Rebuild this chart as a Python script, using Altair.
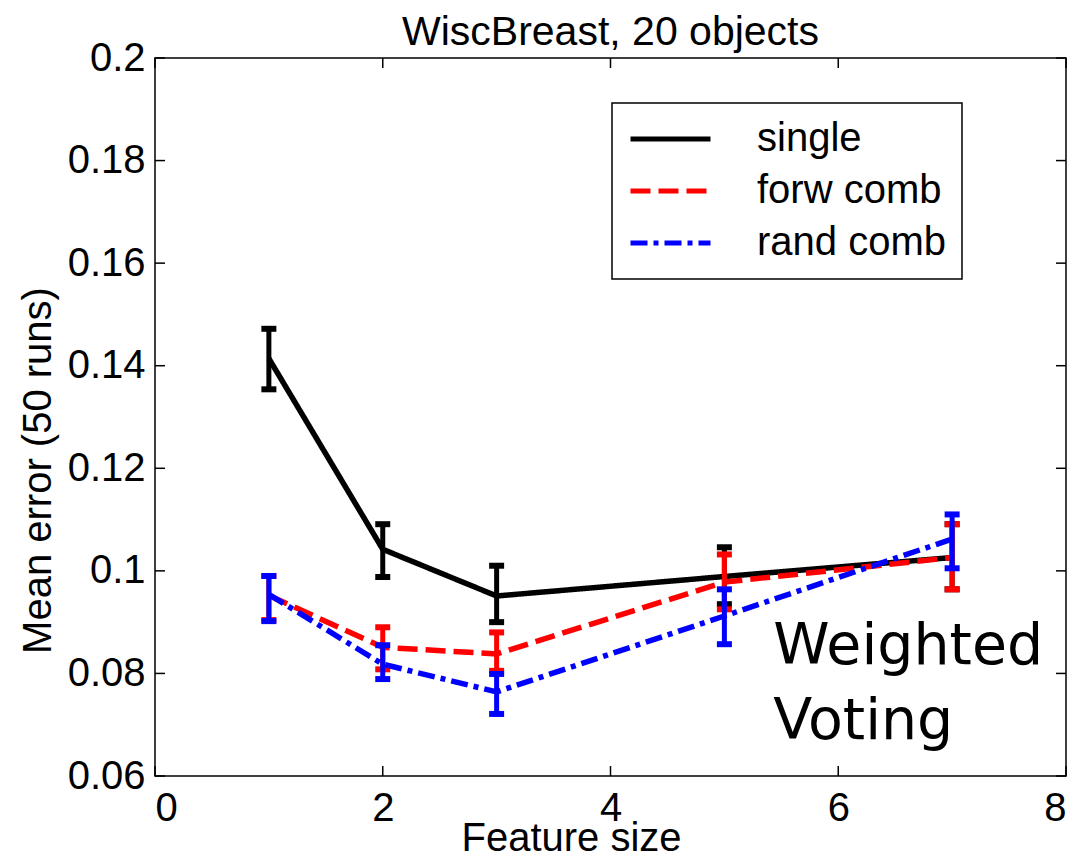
import altair as alt
import pandas as pd

# ---- data ----
series_names = ["single", "forw comb", "rand comb"]
feature_size = [1, 2, 3, 5, 7]

single_mean = [0.1414, 0.1042, 0.0951, 0.0989, 0.1026]
single_lo   = [0.1354, 0.0988, 0.0900, 0.0935, 0.0964]
single_hi   = [0.1472, 0.1091, 0.1010, 0.1046, 0.1091]

forw_mean = [0.0952, 0.0851, 0.0838, 0.0978, 0.1026]
forw_lo   = [0.0904, 0.0808, 0.0805, 0.0925, 0.0964]
forw_hi   = [0.0990, 0.0890, 0.0880, 0.1032, 0.1091]

rand_mean = [0.0954, 0.0818, 0.0764, 0.0912, 0.1062]
rand_lo   = [0.0902, 0.0789, 0.0721, 0.0857, 0.1005]
rand_hi   = [0.0990, 0.0855, 0.0799, 0.0964, 0.1110]

x_ticks = [0, 2, 4, 6, 8]
y_ticks = [0.06, 0.08, 0.10, 0.12, 0.14, 0.16, 0.18, 0.20]

annot_text = ["Weighted", "Voting"]
annot_x = [5.43, 5.43]
annot_y = [0.0818, 0.0672]

colors = ["#000000", "#ff0000", "#0000ff"]
dashes = [[1, 0], [20, 8], [17, 6, 5, 6]]

W, H = 911, 718

rows = []
for name, m, lo, hi in [
    ("single", single_mean, single_lo, single_hi),
    ("forw comb", forw_mean, forw_lo, forw_hi),
    ("rand comb", rand_mean, rand_lo, rand_hi),
]:
    for i, x in enumerate(feature_size):
        rows.append({"series": name, "x": x, "mean": m[i], "lo": lo[i], "hi": hi[i]})
df = pd.DataFrame(rows)

xs = alt.Scale(domain=[0, 8], nice=False)
ys = alt.Scale(domain=[0.06, 0.2], nice=False)
cs = alt.Scale(domain=series_names, range=colors)
ds = alt.Scale(domain=series_names, range=dashes)

x_enc = alt.X("x:Q", scale=xs,
              axis=alt.Axis(values=x_ticks, format="d", title="Feature size",
                            titleX=416, titleY=74, titleBaseline="alphabetic",
                            ticks=False, domain=False, grid=False, labelPadding=12))
y_enc = alt.Y("mean:Q", scale=ys,
              axis=alt.Axis(values=y_ticks, format=".2~f", title="Mean error (50 runs)",
                            titleX=-97, titleY=412, ticks=False, domain=False,
                            grid=False, labelPadding=10))

layers = []
for name in series_names:
    sub = alt.Chart(df).transform_filter(alt.datum.series == name)
    line = sub.mark_line(strokeWidth=5.5, strokeCap="butt", clip=True).encode(
        x=x_enc, y=y_enc,
        color=alt.Color("series:N", scale=cs, sort=series_names,
                        legend=alt.Legend(title=None)),
        strokeDash=alt.StrokeDash("series:N", scale=ds, sort=series_names,
                                  legend=alt.Legend(title=None)),
    )
    rule = sub.mark_rule(strokeWidth=5, opacity=1).encode(
        x="x:Q", y=alt.Y("lo:Q", scale=ys), y2="hi:Q",
        color=alt.Color("series:N", scale=cs, legend=None),
    )
    cap_lo = sub.mark_tick(orient="horizontal", size=15, thickness=6, opacity=1).encode(
        x="x:Q", y=alt.Y("lo:Q", scale=ys),
        color=alt.Color("series:N", scale=cs, legend=None),
    )
    cap_hi = sub.mark_tick(orient="horizontal", size=15, thickness=6, opacity=1).encode(
        x="x:Q", y=alt.Y("hi:Q", scale=ys),
        color=alt.Color("series:N", scale=cs, legend=None),
    )
    layers += [line, rule, cap_lo, cap_hi]

xt = pd.DataFrame({"x": x_ticks})
yt = pd.DataFrame({"mean": y_ticks})
tick_style = dict(strokeWidth=1.5, color="#000000")
xt_bot = alt.Chart(xt).mark_rule(**tick_style).encode(
    x=alt.X("x:Q", scale=xs), y=alt.value(H), y2=alt.value(H - 10))
xt_top = alt.Chart(xt).mark_rule(**tick_style).encode(
    x=alt.X("x:Q", scale=xs), y=alt.value(0), y2=alt.value(10))
yt_left = alt.Chart(yt).mark_rule(**tick_style).encode(
    y=alt.Y("mean:Q", scale=ys), x=alt.value(0), x2=alt.value(10))
yt_right = alt.Chart(yt).mark_rule(**tick_style).encode(
    y=alt.Y("mean:Q", scale=ys), x=alt.value(W), x2=alt.value(W - 10))

ann = pd.DataFrame({"t": annot_text, "x": annot_x, "mean": annot_y})
annot = alt.Chart(ann).mark_text(align="left", baseline="alphabetic",
                                 font="DejaVu Sans", fontSize=57, color="#000000").encode(
    x=alt.X("x:Q", scale=xs), y=alt.Y("mean:Q", scale=ys), text="t:N")

chart = alt.layer(*layers, xt_bot, xt_top, yt_left, yt_right, annot).properties(
    width=W, height=H,
    title=alt.TitleParams("WiscBreast, 20 objects", fontSize=41, font="Liberation Sans",
                          fontWeight="normal", color="#000000", offset=-16),
    autosize=alt.AutoSizeParams(type="none"),
    padding={"left": 155, "top": 58, "right": 12, "bottom": 88},
).resolve_scale(color="shared", strokeDash="shared").configure_view(
    stroke="#000000", strokeWidth=1.5
).configure_axis(
    labelFont="Liberation Sans", titleFont="Liberation Sans",
    labelFontSize=40, titleFontSize=40, labelColor="#000000", titleColor="#000000",
    titleFontWeight="normal",
).configure_legend(
    orient="none", legendX=457, legendY=45,
    strokeColor="#000000", strokeWidth=1.5, fillColor="#ffffff",
    padding=16, symbolType="stroke", symbolSize=6400, symbolStrokeWidth=5,
    labelFont="Liberation Sans", labelFontSize=40, labelColor="#000000",
    labelOffset=44, rowPadding=12, clipHeight=40, labelLimit=400,
)

chart.save("out.html", embed_options={"renderer": "svg", "actions": False})
